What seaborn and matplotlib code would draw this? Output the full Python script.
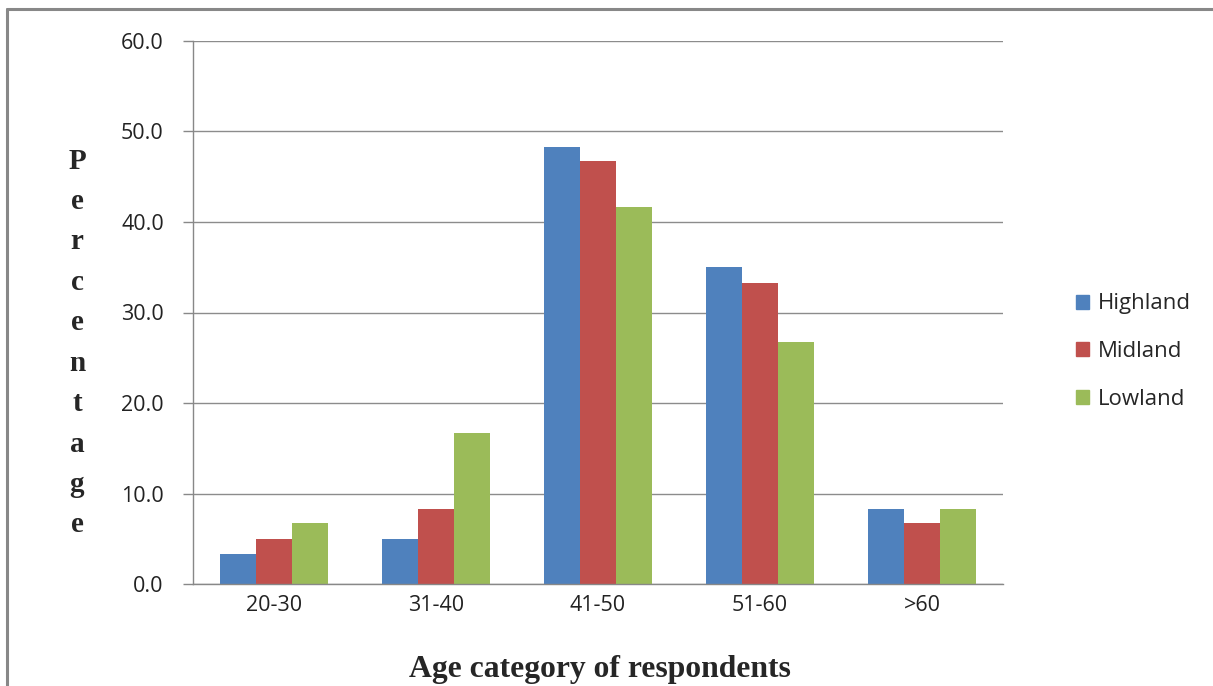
import matplotlib
matplotlib.use("Agg")
import matplotlib.pyplot as plt
import seaborn as sns
import pandas as pd
from matplotlib.lines import Line2D

categories = ["20-30", "31-40", "41-50", "51-60", ">60"]
series_names = ["Highland", "Midland", "Lowland"]
highland = [3.3, 5.0, 48.3, 35.0, 8.3]
midland = [5.0, 8.3, 46.7, 33.3, 6.7]
lowland = [6.7, 16.7, 41.7, 26.7, 8.3]
yticks = [0, 10, 20, 30, 40, 50, 60]
colors = ["#4F81BD", "#C0504D", "#9BBB59"]

rows = []
for name, vals in zip(series_names, [highland, midland, lowland]):
    for c, v in zip(categories, vals):
        rows.append({"Age": c, "Zone": name, "Percent": v})
df = pd.DataFrame(rows)

sns.set_theme(style="white")
plt.rcParams["font.family"] = ["Open Sans", "DejaVu Sans"]

fig = plt.figure(figsize=(12.13, 6.86), dpi=100)
ax = fig.add_axes([193/1213, 1-584/686, (1003-193)/1213, (584-41)/686])

sns.barplot(data=df, x="Age", y="Percent", hue="Zone", order=categories,
            hue_order=series_names, palette=colors, width=2/3, gap=0,
            saturation=1, ax=ax, edgecolor="none", errorbar=None)

ax.set_ylim(0, 60)
ax.set_xlim(-0.5, 4.5)
ax.set_yticks(yticks)
ax.set_yticklabels([f"{t:.1f}" for t in yticks], fontsize=15.5, color="#222222")
ax.set_xticks(range(len(categories)))
ax.set_xticklabels(categories, fontsize=15.5, color="#222222")
ax.set_xticks([i - 0.5 for i in range(len(categories) + 1)], minor=True)
ax.tick_params(axis="x", which="major", length=0, pad=8)
ax.tick_params(axis="x", which="minor", length=8, width=1, color="#888888", direction="out")
ax.tick_params(axis="y", which="major", length=7, width=1, color="#888888", direction="out", pad=14, left=True)
ax.yaxis.grid(True, color="#8c8c8c", linewidth=1)
ax.set_axisbelow(True)
for s in ["top", "right"]:
    ax.spines[s].set_visible(False)
for s in ["left", "bottom"]:
    ax.spines[s].set_color("#888888")
    ax.spines[s].set_linewidth(1)
ax.set_xlabel("")
ax.set_ylabel("")

handles = [plt.Rectangle((0, 0), 1, 1, color=c) for c in colors]
ax.legend(handles, series_names, loc="center left", bbox_to_anchor=(1.065, 0.428),
          frameon=False, fontsize=16, handlelength=0.6, handleheight=0.6,
          handletextpad=0.4, labelspacing=1.2)

fig.text(600/1213, 1-669/686, "Age category of respondents", ha="center", va="center",
         fontsize=22.8, fontweight="bold", family=["Liberation Serif", "DejaVu Serif"])
fig.text(77/1213, 1-343/686, "\n".join("Percentage"), ha="center", va="center",
         fontsize=21, fontweight="bold", family=["Liberation Serif", "DejaVu Serif"],
         linespacing=1.64)

fig.add_artist(Line2D([7/1213, 1], [1-9/686, 1-9/686], transform=fig.transFigure, color="#888888", linewidth=2.2))
fig.add_artist(Line2D([7/1213, 7/1213], [0, 1-9/686], transform=fig.transFigure, color="#888888", linewidth=2.2))

fig.savefig("out.png", dpi=100)
